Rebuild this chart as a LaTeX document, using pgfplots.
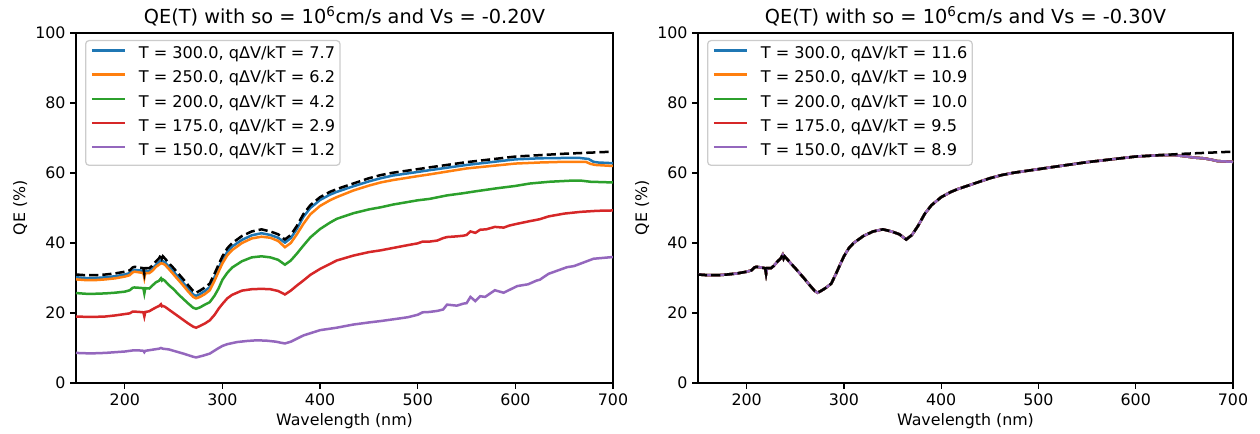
\documentclass[border=0pt]{standalone}
\usepackage{pgfplots}
\pgfplotsset{compat=1.18}
\usepackage{pgfplotstable}
\usepackage{fontspec}
\setmainfont{DejaVu Sans}
\definecolor{c0}{HTML}{1F77B4}
\definecolor{c1}{HTML}{FF7F0E}
\definecolor{c2}{HTML}{2CA02C}
\definecolor{c3}{HTML}{D62728}
\definecolor{c4}{HTML}{9467BD}

\pgfplotstableread{
x y
150 31.0
160 30.8
170 30.8
180 31.0
190 31.3
200 31.8
205 32.2
208 33.0
210 33.2
215 33.0
219 32.8
220 31.2
221 32.8
225 32.8
228 33.5
232 34.8
235 35.6
237 36.6
238 35.6
239 36.2
241 35.6
245 34.3
250 32.8
255 31.2
260 29.6
265 27.9
270 26.3
273 25.8
277 26.4
282 27.3
287 28.4
292 31.3
296 33.8
300 36.2
305 38.5
310 40.0
320 42.0
330 43.3
340 43.9
349 43.3
357 42.5
364 41.0
370 42.3
376 44.8
383 48.3
390 50.8
400 53.1
410 54.6
417 55.4
434 57.0
450 58.5
462 59.4
475 60.1
500 61.1
512 61.6
550 63.1
575 63.9
600 64.7
625 65.1
650 65.5
675 65.8
700 66.1
}\refdata

\pgfplotstableread{
x y
150 30.2
160 30.0
170 30.0
180 30.2
190 30.5
200 31.0
205 31.4
208 32.1
210 32.3
215 32.2
219 32.0
220 30.8
221 32.0
225 32.0
228 32.6
232 33.8
235 34.5
237 35.0
239 34.8
241 34.5
245 33.3
250 31.8
255 30.2
260 28.6
265 26.9
270 25.3
273 24.9
277 25.4
282 26.3
287 27.4
292 30.3
296 32.8
300 35.2
305 37.5
310 39.0
320 40.9
330 42.2
340 42.8
349 42.3
357 41.5
364 40.1
370 41.4
376 43.9
383 47.5
390 50.0
400 52.3
410 53.8
417 54.6
434 56.2
450 57.6
462 58.5
475 59.3
500 60.3
512 60.8
550 62.3
575 63.1
600 63.9
625 64.2
650 64.3
666 64.3
675 64.0
680 63.2
685 63.0
700 62.8
}\bluedata

\pgfplotstableread{
x y
150 29.6
160 29.4
170 29.4
180 29.6
190 29.9
200 30.4
205 30.8
208 31.6
210 31.8
215 31.6
219 31.4
220 30.0
221 31.4
225 31.4
228 32.0
232 33.2
235 33.8
237 34.2
239 34.1
241 33.8
245 32.6
250 31.0
255 29.4
260 27.8
265 26.1
270 24.6
273 24.2
277 24.6
282 25.4
287 26.5
292 29.3
296 31.8
300 34.2
305 36.5
310 38.0
320 40.0
330 41.3
340 41.8
349 41.5
357 40.6
364 38.8
370 40.0
376 42.4
383 45.5
390 48.2
400 50.6
410 52.2
417 53.1
434 55.0
450 56.4
462 57.3
475 58.0
500 59.1
512 59.6
550 61.3
575 62.0
600 62.7
625 63.0
650 63.2
672 63.2
677 62.6
682 62.3
700 62.0
}\orangedata

\pgfplotstableread{
x y
150 25.7
160 25.5
170 25.5
180 25.6
190 25.8
200 26.1
205 26.5
208 27.2
210 27.3
215 27.2
219 27.1
220 25.6
221 27.1
225 27.0
228 27.8
232 28.8
235 29.2
237 29.9
238 29.3
239 29.6
241 29.2
245 28.0
250 26.8
255 25.3
260 24.0
265 22.7
270 21.5
273 21.2
277 21.6
282 22.4
287 23.1
292 25.0
296 27.0
300 29.5
305 31.5
310 33.0
320 34.8
330 35.9
340 36.2
349 35.9
357 35.2
364 33.8
370 35.0
376 36.9
383 39.3
390 41.6
400 44.0
410 45.8
417 46.9
434 48.5
450 49.6
462 50.2
475 51.0
500 52.2
512 52.6
530 53.6
546 54.2
560 54.8
580 55.6
600 56.3
615 57.0
635 57.5
656 57.8
668 57.8
677 57.5
700 57.3
}\greendata

\pgfplotstableread{
x y
150 19.0
160 18.9
170 18.9
180 19.0
190 19.3
200 19.7
205 19.9
208 20.4
210 20.4
215 20.3
219 20.2
220 19.0
221 20.3
225 20.5
228 21.0
232 21.6
235 22.0
237 22.5
238 21.9
239 22.0
241 21.8
245 21.0
250 20.0
255 19.0
260 18.0
265 17.0
270 16.1
273 15.8
277 16.3
282 17.0
287 17.9
292 19.5
296 21.2
300 22.6
305 24.2
310 25.2
320 26.4
330 26.8
340 26.9
349 26.8
357 26.3
364 25.3
370 26.4
376 27.8
383 29.3
390 30.9
400 32.6
410 34.0
417 35.0
434 36.4
450 37.4
462 37.9
475 38.6
490 39.4
500 39.9
505 40.4
512 40.4
520 40.7
526 41.4
530 41.7
540 41.9
547 42.1
550 42.3
554 43.3
559 42.9
564 43.8
570 43.9
579 44.6
588 44.4
594 45.0
602 45.5
614 46.2
625 46.8
634 47.6
650 48.4
667 48.9
684 49.2
700 49.3
}\reddata

\pgfplotstableread{
x y
150 8.6
160 8.5
170 8.5
180 8.6
190 8.8
200 9.0
208 9.3
215 9.3
219 9.2
220 8.8
221 9.2
228 9.5
235 9.8
237 10.0
239 9.8
245 9.6
250 9.2
260 8.4
270 7.5
273 7.3
280 7.8
287 8.4
295 9.8
300 10.6
305 11.1
315 11.7
325 12.0
335 12.2
345 12.1
355 11.8
360 11.5
364 11.3
370 11.8
383 13.6
400 15.1
417 15.8
434 16.7
450 17.3
462 17.7
475 18.2
490 18.8
500 19.5
505 20.2
512 20.3
520 20.6
526 21.0
530 22.4
540 22.1
547 22.7
550 22.8
554 24.6
559 23.4
564 24.8
569 24.6
579 26.5
588 25.8
602 27.7
613 28.2
622 29.3
625 29.5
634 31.2
653 33.1
660 33.4
680 35.5
700 36.0
}\purpledata

\pgfplotstableread{
x y
150 31.0
160 30.8
170 30.8
180 31.0
190 31.3
200 31.8
205 32.2
208 33.0
210 33.2
215 33.0
219 32.8
220 31.2
221 32.8
225 32.8
228 33.5
232 34.8
235 35.6
237 36.6
238 35.6
239 36.2
241 35.6
245 34.3
250 32.8
255 31.2
260 29.6
265 27.9
270 26.3
273 25.8
277 26.4
282 27.3
287 28.4
292 31.3
296 33.8
300 36.2
305 38.5
310 40.0
320 42.0
330 43.3
340 43.9
349 43.3
357 42.5
364 41.0
370 42.3
376 44.8
383 48.3
390 50.8
400 53.1
410 54.6
417 55.4
434 57.0
450 58.5
462 59.4
475 60.1
500 61.1
512 61.6
550 63.1
575 63.9
600 64.7
625 65.1
640 65.1
650 64.8
660 64.4
670 64.2
678 63.8
684 63.4
700 63.2
}\rightdata

\pgfplotsset{
  qestyle/.style={
    scale only axis,
    height=252pt,
    xmin=150, xmax=700, ymin=0, ymax=100,
    xtick={200,300,400,500,600,700},
    ytick={0,20,40,60,80,100},
    tick align=outside,
    xtick pos=lower, ytick pos=left,
    major tick length=4pt,
    axis line style={line width=0.96pt},
    every tick/.style={black, line width=0.96pt},
    tick label style={font=\fontsize{11.4}{13.7}\selectfont},
    /pgf/number format/assume math mode=true,
    label style={font=\fontsize{11.4}{13.7}\selectfont},
    title style={font=\fontsize{13.9}{16.7}\selectfont, anchor=base, yshift=0.5pt},
    xlabel={Wavelength (nm)},
    ylabel={QE (\%)},
    xlabel style={yshift=1pt},
    ylabel style={yshift=-1pt},
    legend cell align=left,
    legend style={at={(0,1)}, anchor=north west, xshift=6.5pt, yshift=-5pt,
      draw=black!20, line width=0.9pt, rounded corners=2.5pt, fill=white, fill opacity=0.8, text opacity=1,
      font=\fontsize{11.6}{13.9}\selectfont, row sep=6.2pt, inner xsep=3.6pt, inner ysep=4.5pt,
      nodes={inner sep=0pt, text height=8.6pt, text depth=2.6pt},
      /tikz/every odd column/.append style={column sep=9.4pt}},
    legend image code/.code={\draw[#1] (0pt,3pt) -- (23.5pt,3pt);},
    every axis plot/.append style={line width=1.8pt},
  }
}

\begin{document}
\begin{tikzpicture}[x=1pt,y=1pt]
\useasboundingbox (0,0) rectangle (907.2,311.76);
\begin{axis}[qestyle, at={(54.72pt,36pt)}, anchor=south west, width=386.64pt,
  title={QE(T) with so = 10\textsuperscript{6}cm/s and Vs = -0.20V}]
\addplot[c0] table {\bluedata};
\addlegendentry{T = 300.0, qΔV/kT = 7.7}
\addplot[c1] table {\orangedata};
\addlegendentry{T = 250.0, qΔV/kT = 6.2}
\addplot[c2] table {\greendata};
\addlegendentry{T = 200.0, qΔV/kT = 4.2}
\addplot[c3] table {\reddata};
\addlegendentry{T = 175.0, qΔV/kT = 2.9}
\addplot[c4] table {\purpledata};
\addlegendentry{T = 150.0, qΔV/kT = 1.2}
\addplot[black, line width=1.8pt, dash pattern=on 6.6pt off 2.9pt, forget plot] table {\refdata};
\end{axis}
\begin{axis}[qestyle, at={(502.56pt,36pt)}, anchor=south west, width=385.2pt,
  title={QE(T) with so = 10\textsuperscript{6}cm/s and Vs = -0.30V}]
\addplot[c0] table {\rightdata};
\addlegendentry{T = 300.0, qΔV/kT = 11.6}
\addplot[c1] table {\rightdata};
\addlegendentry{T = 250.0, qΔV/kT = 10.9}
\addplot[c2] table {\rightdata};
\addlegendentry{T = 200.0, qΔV/kT = 10.0}
\addplot[c3] table {\rightdata};
\addlegendentry{T = 175.0, qΔV/kT = 9.5}
\addplot[c4] table {\rightdata};
\addlegendentry{T = 150.0, qΔV/kT = 8.9}
\addplot[black, line width=1.8pt, dash pattern=on 6.6pt off 2.9pt, forget plot] table {\refdata};
\end{axis}
\end{tikzpicture}
\end{document}
